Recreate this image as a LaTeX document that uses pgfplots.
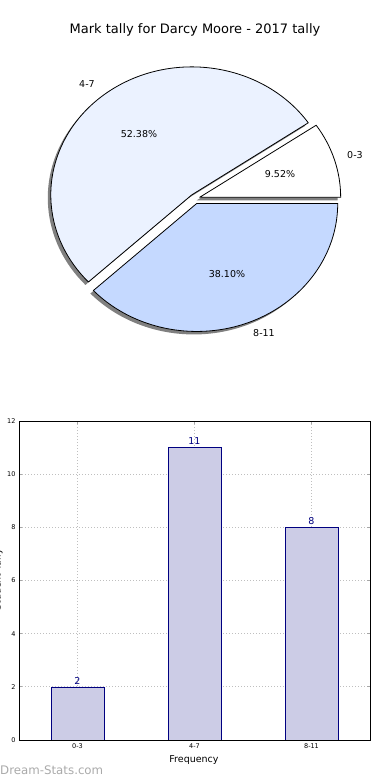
\documentclass[border=0pt]{standalone}
\usepackage{fontspec}
\setmainfont{DejaVu Sans}
\usepackage{pgfplots}
\pgfplotsset{compat=1.18}
\definecolor{pieA}{RGB}{255,255,255}
\definecolor{pieB}{RGB}{235,242,255}
\definecolor{pieC}{RGB}{197,217,255}
\definecolor{barfill}{RGB}{204,204,230}
\definecolor{navy}{RGB}{0,0,128}
\definecolor{wm}{RGB}{170,170,170}
\begin{document}
\begin{tikzpicture}[x=1pt,y=1pt]
\useasboundingbox (0,0) rectangle (390,780);
% data
\def\cA{2}\def\cB{11}\def\cC{8}
\pgfmathsetmacro\tot{\cA+\cB+\cC}
\pgfmathsetmacro\aA{360*\cA/\tot}
\pgfmathsetmacro\aB{\aA+360*\cB/\tot}
\pgfmathsetmacro\mA{\aA/2}
\pgfmathsetmacro\mB{(\aA+\aB)/2}
\pgfmathsetmacro\mC{(\aB+360)/2}
\def\cx{194.9}\def\cy{581.2}\def\ex{5}
\pgfmathsetmacro\pxA{\cx+\ex*cos(\mA)}\pgfmathsetmacro\pyA{\cy+\ex*sin(\mA)}
\pgfmathsetmacro\pxB{\cx+\ex*cos(\mB)}\pgfmathsetmacro\pyB{\cy+\ex*sin(\mB)}
\pgfmathsetmacro\pxC{\cx+\ex*cos(\mC)}\pgfmathsetmacro\pyC{\cy+\ex*sin(\mC)}
\pgfmathsetmacro\sxA{\pxA-3}\pgfmathsetmacro\syA{\pyA-3}
\pgfmathsetmacro\sxB{\pxB-3}\pgfmathsetmacro\syB{\pyB-3}
\pgfmathsetmacro\sxC{\pxC-3}\pgfmathsetmacro\syC{\pyC-3}
\begin{axis}[at={(0pt,0pt)},anchor=south west,width=390pt,height=780pt,scale only axis,
  xmin=0,xmax=390,ymin=0,ymax=780,enlargelimits=false,hide axis,clip=false]
\addplot[draw=none,forget plot] coordinates {(0,0)};
\tikzset{wedge/.style={draw=black,line width=0.8pt,line join=round}}
% shadows
\fill[black!50] (axis cs:\sxA,\syA) -- ++(0:141pt and 128pt) arc[start angle=0,end angle=\aA,x radius=141pt,y radius=128pt] -- cycle;
\fill[black!50] (axis cs:\sxB,\syB) -- ++(\aA:141pt and 128pt) arc[start angle=\aA,end angle=\aB,x radius=141pt,y radius=128pt] -- cycle;
\fill[black!50] (axis cs:\sxC,\syC) -- ++(\aB:141pt and 128pt) arc[start angle=\aB,end angle=360,x radius=141pt,y radius=128pt] -- cycle;
% wedges
\filldraw[wedge,fill=pieA] (axis cs:\pxA,\pyA) -- ++(0:141pt and 128pt) arc[start angle=0,end angle=\aA,x radius=141pt,y radius=128pt] -- cycle;
\filldraw[wedge,fill=pieB] (axis cs:\pxB,\pyB) -- ++(\aA:141pt and 128pt) arc[start angle=\aA,end angle=\aB,x radius=141pt,y radius=128pt] -- cycle;
\filldraw[wedge,fill=pieC] (axis cs:\pxC,\pyC) -- ++(\aB:141pt and 128pt) arc[start angle=\aB,end angle=360,x radius=141pt,y radius=128pt] -- cycle;
\end{axis}
% bar chart
\begin{axis}[at={(19pt,40pt)},anchor=south west,width=351pt,height=319pt,scale only axis,
  xmin=-0.5,xmax=2.5,ymin=0,ymax=12,
  xtick={0,1,2},xticklabels={0-3,4-7,8-11},ytick={0,2,...,12},
  grid=major,grid style={dash pattern=on 1pt off 2pt,black!25,line width=0.9pt},
  axis line style={line width=0.8pt},
  tick style={black!35,line width=0.8pt},tick align=inside,major tick length=3pt,
  tick label style={font=\fontsize{6.5}{7}\selectfont},
  /pgf/number format/assume math mode=true]
\addplot[ybar,bar width=0.45,fill=barfill,draw=navy,line width=0.6pt,
  nodes near coords,
  every node near coord/.append style={font=\fontsize{9.5}{10}\selectfont,text=navy,inner sep=2.5pt}]
  coordinates {(0,2) (1,11) (2,8)};
\end{axis}
% texts
\node[font=\fontsize{13}{15}\selectfont] at (195,750) {Mark tally for Darcy Moore - 2017 tally};
\begin{scope}[every node/.style={font=\fontsize{9.5}{11}\selectfont}]
\node at (87,696) {4-7};
\node at (139,646) {52.38\%};
\node at (355,625) {0-3};
\node at (280,606) {9.52\%};
\node at (227,506) {38.10\%};
\node at (264,447) {8-11};
\node at (194,20) {Frequency};
\node[rotate=90] at (-2,200) {Student Tally};
\end{scope}
\node[anchor=west,inner sep=0pt,text=wm,font=\fontsize{11.8}{13}\selectfont] at (0,10) {Dream-Stats.com};
\end{tikzpicture}
\end{document}
